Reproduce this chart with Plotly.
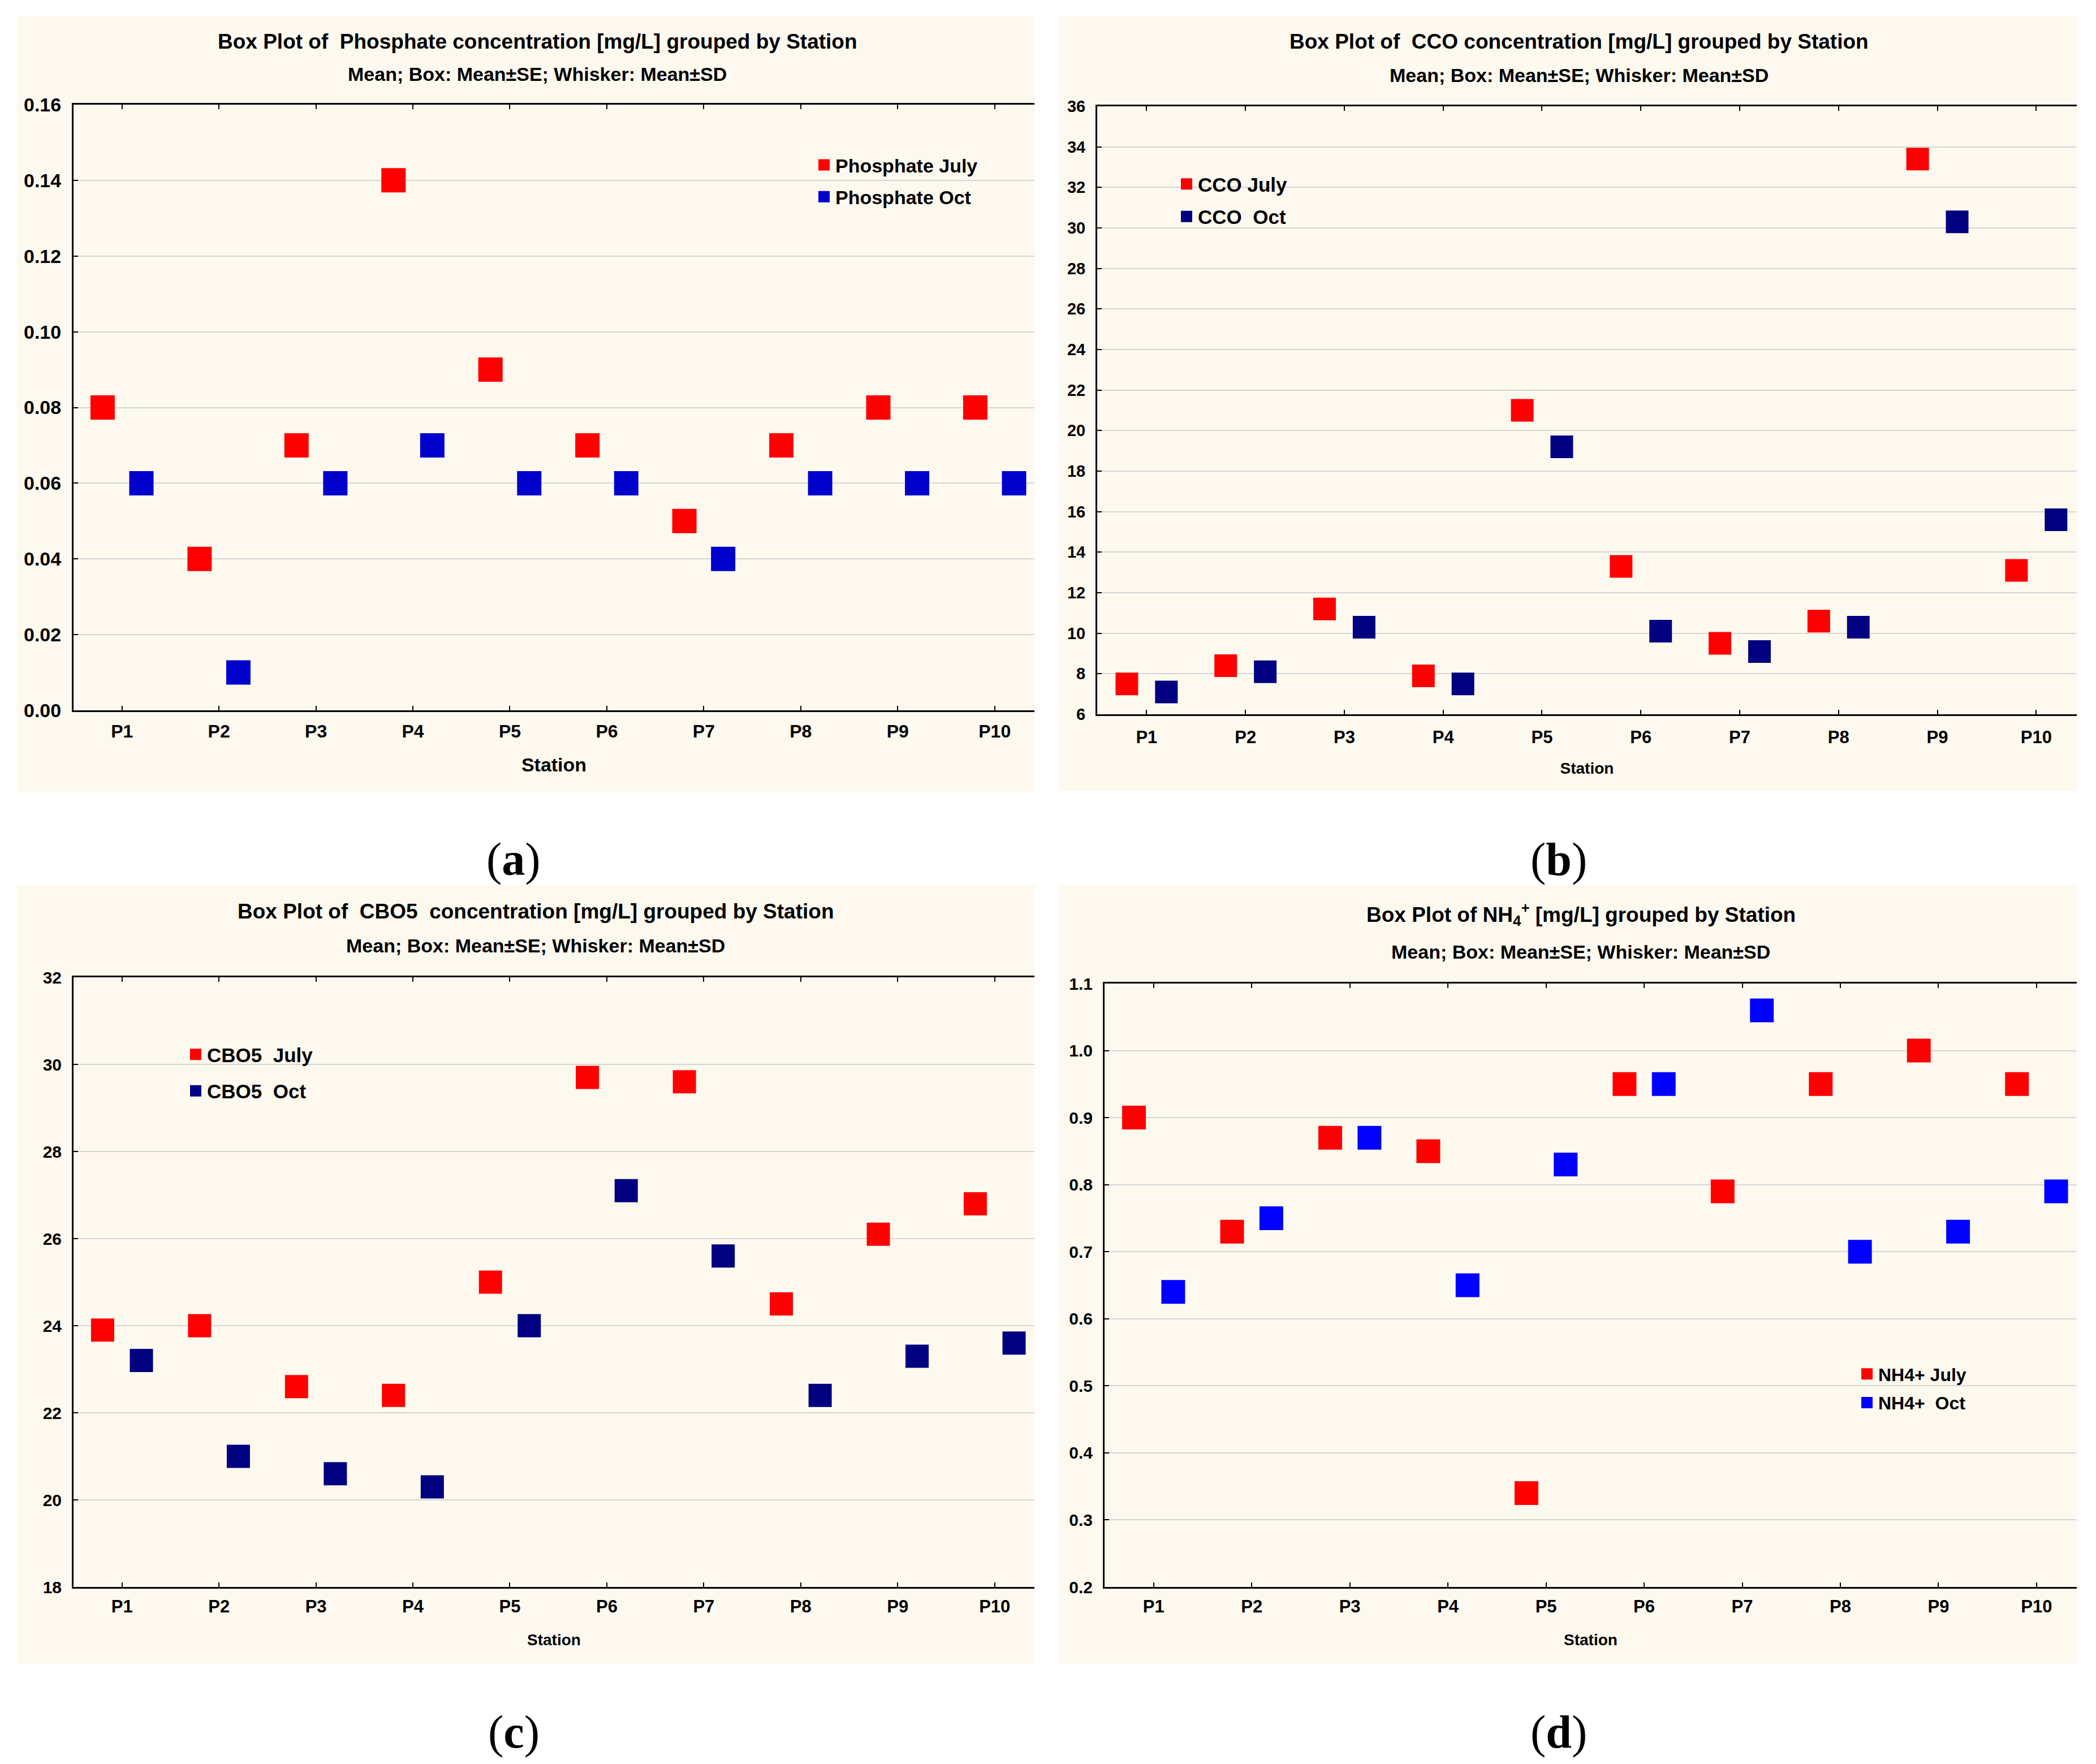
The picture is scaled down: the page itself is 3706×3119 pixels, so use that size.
import plotly.graph_objects as go

# ---------------- data ----------------
stations = ["P1", "P2", "P3", "P4", "P5", "P6", "P7", "P8", "P9", "P10"]

phosphate_july = [0.08, 0.04, 0.07, 0.14, 0.09, 0.07, 0.05, 0.07, 0.08, 0.08]
phosphate_oct = [0.06, 0.01, 0.06, 0.07, 0.06, 0.06, 0.04, 0.06, 0.06, 0.06]

cco_july = [7.5, 8.4, 11.2, 7.9, 21.0, 13.3, 9.5, 10.6, 33.4, 13.1]
cco_oct = [7.1, 8.1, 10.3, 7.5, 19.2, 10.1, 9.1, 10.3, 30.3, 15.6]

cbo5_july = [23.9, 24.0, 22.6, 22.4, 25.0, 29.7, 29.6, 24.5, 26.1, 26.8]
cbo5_oct = [23.2, 21.0, 20.6, 20.3, 24.0, 27.1, 25.6, 22.4, 23.3, 23.6]

nh4_july = [0.90, 0.73, 0.87, 0.85, 0.34, 0.95, 0.79, 0.95, 1.00, 0.95]
nh4_oct = [0.64, 0.75, 0.87, 0.65, 0.83, 0.95, 1.06, 0.70, 0.73, 0.79]

titles = [
    "Box Plot of&nbsp; Phosphate concentration [mg/L] grouped by Station",
    "Box Plot of&nbsp; CCO concentration [mg/L] grouped by Station",
    "Box Plot of&nbsp; CBO5&nbsp; concentration [mg/L] grouped by Station",
    "Box Plot of NH<sub>4</sub><sup>+</sup> [mg/L] grouped by Station",
]
subtitle = "Mean; Box: Mean±SE; Whisker: Mean±SD"
legend_names = [
    ("Phosphate July", "Phosphate Oct"),
    ("CCO July", "CCO&nbsp; Oct"),
    ("CBO5&nbsp; July", "CBO5&nbsp; Oct"),
    ("NH4+ July", "NH4+&nbsp; Oct"),
]
captions = ["a", "b", "c", "d"]
x_title = "Station"

# ---------------- layout helpers ----------------
W, H = 3706, 3119
FONT = "Liberation Sans, Arial, sans-serif"
BEIGE = "#FDF9EF"
LW = 4  # marker outline width (same colour as fill)


def fx(px):
    return px / W


def fy(px):
    return 1 - px / H


panels = [
    dict(july=phosphate_july, oct=phosphate_oct, oct_color="#0000CC",
         plot=(130, 1829, 185, 1256), beige=(30, 1829, 28, 1400),
         yr=[0, 0.16], dtick=0.02, fmt=".2f", tick_size=34, xt_size=32,
         tl_standoff=7, title_xy=(950, 73, 131), xtitle_size=34, xtitle_standoff=30,
         legend=(1437, 263, 9), legend_size=34, msize=43, cap=(908, 1520)),
    dict(july=cco_july, oct=cco_oct, oct_color="#000080",
         plot=(1940, 3672, 188, 1263), beige=(1873, 3672, 28, 1398),
         yr=[6, 36], dtick=2, fmt="d", tick_size=29, xt_size=31,
         tl_standoff=11, title_xy=(2792, 73, 133), xtitle_size=28, xtitle_standoff=29,
         legend=(2078, 296, 9), legend_size=35, msize=40, cap=(2756, 1520)),
    dict(july=cbo5_july, oct=cbo5_oct, oct_color="#000080",
         plot=(130, 1829, 1728, 2806), beige=(30, 1829, 1565, 2942),
         yr=[18, 32], dtick=2, fmt="d", tick_size=30, xt_size=31,
         tl_standoff=5, title_xy=(947, 1612, 1672), xtitle_size=28, xtitle_standoff=33,
         legend=(326, 1835, 16), legend_size=35, msize=41, cap=(908, 3062)),
    dict(july=nh4_july, oct=nh4_oct, oct_color="#0000FF",
         plot=(1953, 3672, 1739, 2806), beige=(1873, 3672, 1565, 2942),
         yr=[0.2, 1.1], dtick=0.1, fmt=".1f", tick_size=30, xt_size=31,
         tl_standoff=5, title_xy=(2795, 1616, 1683), xtitle_size=28, xtitle_standoff=33,
         legend=(3281, 2402, 6), legend_size=32, msize=42, cap=(2756, 3062)),
]

fig = go.Figure()
layout = dict(
    width=W, height=H,
    margin=dict(l=0, r=0, t=0, b=0, autoexpand=False),
    paper_bgcolor="white",
    plot_bgcolor="white",
    scattermode="group",
    scattergap=0.2,
    showlegend=True,
    font=dict(family=FONT, color="black"),
)
shapes = []
annotations = []

for i, p in enumerate(panels):
    n = i + 1
    xa = "x" if n == 1 else f"x{n}"
    ya = "y" if n == 1 else f"y{n}"
    lg = "legend" if n == 1 else f"legend{n}"
    x0, x1, y0, y1 = p["plot"]

    fig.add_trace(go.Scatter(
        x=stations, y=p["july"], mode="markers", name=legend_names[i][0],
        marker=dict(symbol="square", size=p["msize"] - LW, color="#FF0000",
                    line=dict(width=LW, color="#FF0000")),
        offsetgroup="july", xaxis=xa, yaxis=ya, legend=lg, legendgroup=f"j{n}",
    ))
    fig.add_trace(go.Scatter(
        x=stations, y=p["oct"], mode="markers", name=legend_names[i][1],
        marker=dict(symbol="square", size=p["msize"] - LW, color=p["oct_color"],
                    line=dict(width=LW, color=p["oct_color"])),
        offsetgroup="oct", xaxis=xa, yaxis=ya, legend=lg, legendgroup=f"o{n}",
    ))

    xkey = "xaxis" if n == 1 else f"xaxis{n}"
    ykey = "yaxis" if n == 1 else f"yaxis{n}"
    layout[xkey] = dict(
        domain=[fx(x0), fx(x1)], anchor=ya, type="category",
        categoryorder="array", categoryarray=stations,
        range=[-0.5, 9.41], showgrid=False, zeroline=False, automargin=False,
        showline=True, linecolor="black", linewidth=3, mirror="ticks",
        ticks="inside", ticklen=8, tickwidth=2, tickcolor="black",
        ticklabelstandoff=p["tl_standoff"],
        tickfont=dict(family=FONT, size=p["xt_size"], color="black", weight="bold"),
        title=dict(text=x_title, standoff=p["xtitle_standoff"],
                   font=dict(family=FONT, size=p["xtitle_size"], color="black", weight="bold")),
    )
    layout[ykey] = dict(
        domain=[fy(y1), fy(y0)], anchor=xa, range=p["yr"], dtick=p["dtick"],
        tick0=p["yr"][0], tickformat=p["fmt"], automargin=False,
        showgrid=True, gridcolor="#D6D6D6", gridwidth=2, zeroline=False,
        showline=True, linecolor="black", linewidth=3, mirror=False,
        ticks="inside", ticklen=8, tickwidth=2, tickcolor="black",
        ticklabelstandoff=12,
        tickfont=dict(family=FONT, size=p["tick_size"], color="black", weight="bold"),
    )
    lx, ly, gap = p["legend"]
    layout[lg] = dict(
        x=fx(lx), y=fy(ly), xanchor="left", yanchor="top",
        bgcolor="rgba(0,0,0,0)", borderwidth=0,
        traceorder="grouped", tracegroupgap=gap,
        font=dict(family=FONT, size=p["legend_size"], color="black", weight="bold"),
        itemsizing="trace",
    )

    bx0, bx1, by0, by1 = p["beige"]
    shapes.append(dict(type="rect", xref="paper", yref="paper",
                       x0=fx(bx0), x1=fx(bx1), y0=fy(by1), y1=fy(by0),
                       fillcolor=BEIGE, line=dict(width=0), layer="below"))

    tx, ty, sy = p["title_xy"]
    annotations.append(dict(text=titles[i], x=fx(tx), y=fy(ty), xref="paper", yref="paper",
                            xanchor="center", yanchor="middle", showarrow=False,
                            font=dict(family=FONT, size=37, color="black", weight="bold")))
    annotations.append(dict(text=subtitle, x=fx(tx), y=fy(sy), xref="paper", yref="paper",
                            xanchor="center", yanchor="middle", showarrow=False,
                            font=dict(family=FONT, size=34, color="black", weight="bold")))
    cx, cy = p["cap"]
    annotations.append(dict(text=f"(<b>{captions[i]}</b>)", x=fx(cx), y=fy(cy),
                            xref="paper", yref="paper", xanchor="center", yanchor="middle",
                            showarrow=False,
                            font=dict(family="Liberation Serif, DejaVu Serif, serif", size=82, color="black")))

layout["shapes"] = shapes
layout["annotations"] = annotations
fig.update_layout(**layout)

fig.write_html(
    "out.html",
    config={"displayModeBar": False},
    post_script="document.body.style.margin='0px';document.documentElement.style.overflow='hidden';",
)
